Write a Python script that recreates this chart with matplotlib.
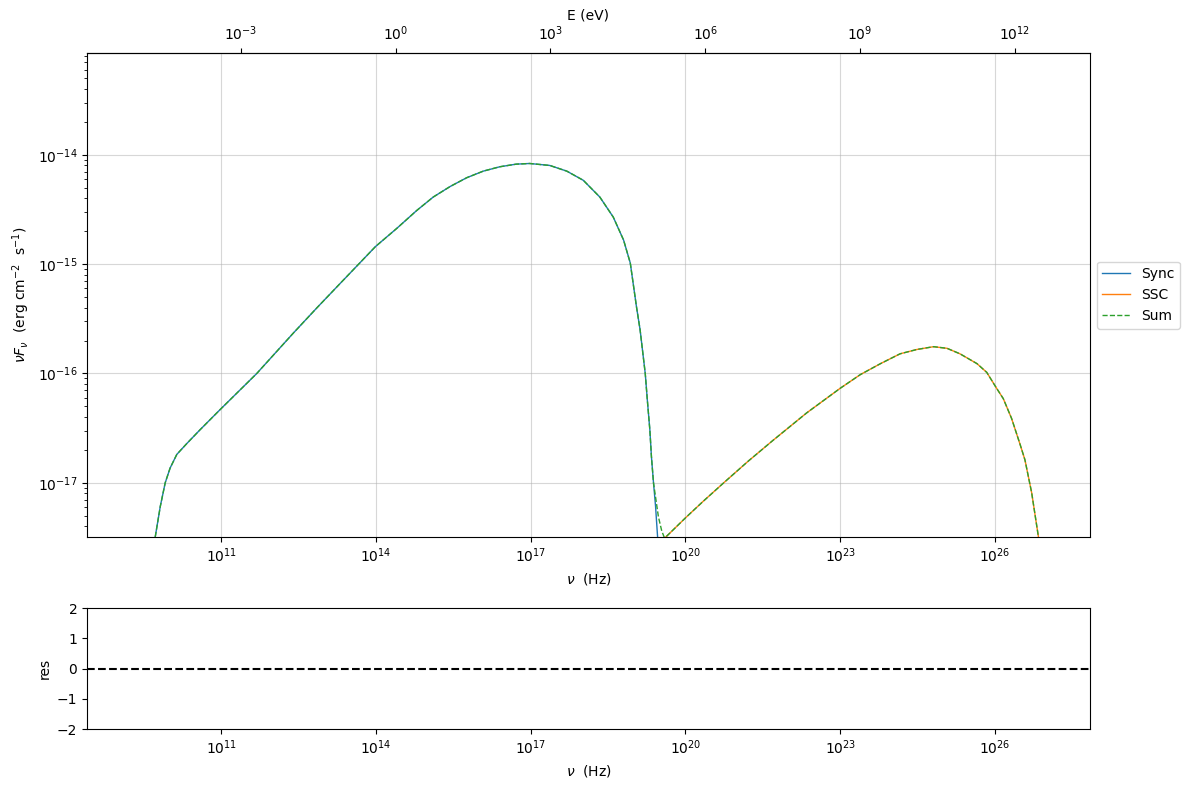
import matplotlib
matplotlib.use("Agg")
import matplotlib.pyplot as plt
import numpy as np

# log10(nu [Hz]) and log10(nuFnu [erg cm-2 s-1])
sync_lognu = [9.60, 9.72, 9.82, 9.915, 10.01, 10.14, 10.335, 10.59, 10.98, 11.69,
              12.40, 12.855, 13.30, 13.99, 14.40, 14.79, 15.11, 15.44, 15.76, 16.08,
              16.40, 16.72, 16.98, 17.37, 17.70, 18.02, 18.34, 18.60, 18.80, 18.93,
              19.05, 19.12, 19.22, 19.26, 19.31, 19.34, 19.38, 19.42, 19.46, 19.55]
sync_logF = [-18.3, -17.50, -17.215, -17.0, -16.865, -16.74, -16.64, -16.515, -16.33, -16.0,
             -15.63, -15.40, -15.18, -14.84, -14.675, -14.51, -14.387, -14.29, -14.21, -14.15,
             -14.11, -14.086, -14.08, -14.098, -14.15, -14.234, -14.387, -14.57, -14.78, -14.99,
             -15.39, -15.60, -16.0, -16.24, -16.52, -16.76, -17.0, -17.215, -17.50, -18.2]

ssc_lognu = [19.30, 19.63, 20.0, 20.34, 20.74, 21.22, 21.70, 22.35, 23.0, 23.39,
             23.78, 24.16, 24.49, 24.81, 25.07, 25.32, 25.65, 25.84, 26.03, 26.16,
             26.32, 26.48, 26.58, 26.71, 26.84, 26.95]
ssc_logF = [-17.62, -17.49, -17.32, -17.17, -17.0, -16.80, -16.61, -16.36, -16.135, -16.01,
            -15.91, -15.82, -15.78, -15.755, -15.77, -15.82, -15.91, -15.99, -16.135, -16.23,
            -16.41, -16.64, -16.79, -17.09, -17.49, -17.9]

# where the two components cross, the sum dips to a shallow minimum
dip_lognu = [19.475, 19.54, 19.59]
dip_logF = [-17.31, -17.44, -17.50]

n_sync = sync_lognu.index(19.38) + 1
sum_lognu = sync_lognu[:n_sync] + dip_lognu + ssc_lognu[1:]
sum_logF = sync_logF[:n_sync] + dip_logF + ssc_logF[1:]

h_ev = 4.135667e-15  # eV s

fig = plt.figure(figsize=(11.89, 7.89), dpi=100)
ax = fig.add_axes([0.0732, 0.3194, 0.8435, 0.6134])
ax_res = fig.add_axes([0.0732, 0.076, 0.8435, 0.1534])

ax.plot(10**np.array(sync_lognu), 10**np.array(sync_logF), '-', lw=1, color='tab:blue', label='Sync')
ax.plot(10**np.array(ssc_lognu), 10**np.array(ssc_logF), '-', lw=1, color='tab:orange', label='SSC')
ax.plot(10**np.array(sum_lognu), 10**np.array(sum_logF), '--', lw=1, color='tab:green', label='Sum')

ax.set_xscale('log')
ax.set_yscale('log')
ax.set_xlim(10**8.4, 10**27.84)
ax.set_ylim(10**-17.495, 10**-13.07)
ax.grid(alpha=0.5)
ax.xaxis.set_minor_locator(matplotlib.ticker.NullLocator())
ax.set_xlabel(r'$\nu$  (Hz)')
ax.set_ylabel(r'$\nu F_{\nu}$  (erg cm$^{-2}$  s$^{-1}$)')
ax.legend(loc='center left', bbox_to_anchor=(1.0, 0.5))

top = ax.secondary_xaxis('top', functions=(lambda x: x * h_ev, lambda e: e / h_ev))
top.set_xlabel('E (eV)')
top.xaxis.set_minor_locator(matplotlib.ticker.NullLocator())

ax_res.axhline(0, ls='--', color='k')
ax_res.set_xscale('log')
ax_res.set_xlim(10**8.4, 10**27.84)
ax_res.set_ylim(-2, 2)
ax_res.xaxis.set_minor_locator(matplotlib.ticker.NullLocator())
ax_res.set_xlabel(r'$\nu$  (Hz)')
ax_res.set_ylabel('res')

fig.savefig('out.png', dpi=100)
